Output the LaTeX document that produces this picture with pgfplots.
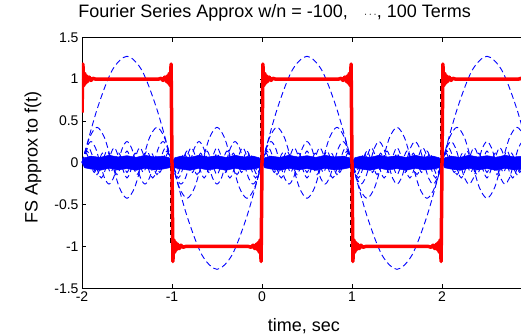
\documentclass[border=0pt]{standalone}
\usepackage{fontspec}
\setmainfont{Liberation Sans}
\usepackage{pgfplots}
\pgfplotsset{compat=1.18}
\begin{document}
\begin{tikzpicture}
\begin{axis}[
  at={(0,0)}, anchor=south west,
  scale only axis, width=450pt, height=251pt,
  xmin=-2, xmax=3, ymin=-1.5, ymax=1.5,
  xtick={-2,-1,0,1,2}, ytick={-1.5,-1,-0.5,0,0.5,1,1.5},
  yticklabels={-1.5,-1,-0.5,0,0.5,1,1.5},
  xticklabels={-2,-1,0,1,2},
  axis line style={line width=0.8pt},
  tick style={black, line width=0.8pt},
  major tick length=4.5pt,
  tick align=inside,
  ytick pos=left,
  xtick pos=both,
  tick label style={font=\fontsize{14}{16}\selectfont},
  /pgf/number format/assume math mode=true,
  title={Fourier Series Approx w/n = -100,\hspace{16pt}{\fontsize{11}{11}\selectfont$\cdots$}, 100 Terms},
  title style={font=\fontsize{18}{20}\selectfont, at={(axis description cs:0.428,1.053)}, anchor=base},
  xlabel={time, sec},
  ylabel={FS Approx to f(t)},
  every axis x label/.style={at={(axis description cs:0.493,-0.172)}, anchor=base, font=\fontsize{18}{20}\selectfont},
  every axis y label/.style={at={(axis description cs:-0.1089,0.523)}, rotate=90, anchor=center, font=\fontsize{18}{20}\selectfont},
]
% dense band of high harmonics
\addplot[fill=blue, draw=blue, line width=0.5pt] coordinates {
(-2,0) (-1.97,.06) (-1.9,.08) (-1.8,.065) (-1.7,.09) (-1.6,.07) (-1.5,.085) (-1.4,.065) (-1.3,.09) (-1.2,.07) (-1.1,.08) (-1.03,.06)
(-1,0) (-.97,.06) (-.9,.08) (-.8,.065) (-.7,.09) (-.6,.07) (-.5,.085) (-.4,.065) (-.3,.09) (-.2,.07) (-.1,.08) (-.03,.06)
(0,0) (.03,.06) (.1,.08) (.2,.065) (.3,.09) (.4,.07) (.5,.085) (.6,.065) (.7,.09) (.8,.07) (.9,.08) (.97,.06)
(1,0) (1.03,.06) (1.1,.08) (1.2,.065) (1.3,.09) (1.4,.07) (1.5,.085) (1.6,.065) (1.7,.09) (1.8,.07) (1.9,.08) (1.97,.06)
(2,0) (2.03,.06) (2.1,.08) (2.2,.065) (2.3,.09) (2.4,.07) (2.5,.085) (2.6,.065) (2.7,.09) (2.8,.07) (2.9,.08) (2.97,.06) (3,0)
(2.97,-.06) (2.9,-.075) (2.8,-.085) (2.7,-.065) (2.6,-.09) (2.5,-.07) (2.4,-.085) (2.3,-.065) (2.2,-.09) (2.1,-.075) (2.03,-.06) (2,0)
(1.97,-.06) (1.9,-.075) (1.8,-.085) (1.7,-.065) (1.6,-.09) (1.5,-.07) (1.4,-.085) (1.3,-.065) (1.2,-.09) (1.1,-.075) (1.03,-.06) (1,0)
(.97,-.06) (.9,-.075) (.8,-.085) (.7,-.065) (.6,-.09) (.5,-.07) (.4,-.085) (.3,-.065) (.2,-.09) (.1,-.075) (.03,-.06) (0,0)
(-.03,-.06) (-.1,-.075) (-.2,-.085) (-.3,-.065) (-.4,-.09) (-.5,-.07) (-.6,-.085) (-.7,-.065) (-.8,-.09) (-.9,-.075) (-.97,-.06) (-1,0)
(-1.03,-.06) (-1.1,-.075) (-1.2,-.085) (-1.3,-.065) (-1.4,-.09) (-1.5,-.07) (-1.6,-.085) (-1.7,-.065) (-1.8,-.09) (-1.9,-.075) (-1.97,-.06) (-2,0)
};
% harmonics (dashed blue)
\pgfplotsset{harm/.style={blue, line width=0.9pt, dash pattern=on 6pt off 3.5pt, smooth}}
% k=1
\addplot[harm] coordinates {
(-2,0) (-1.8333,0.6366) (-1.6667,1.1026) (-1.5,1.2732) (-1.3333,1.1026) (-1.1667,0.6366) (-1,0) (-0.8333,-0.6366) (-0.6667,-1.1026) (-0.5,-1.2732) (-0.3333,-1.1026) (-0.1667,-0.6366) (0,0) (0.1667,0.6366) (0.3333,1.1026) (0.5,1.2732) (0.6667,1.1026) (0.8333,0.6366) (1,0) (1.1667,-0.6366) (1.3333,-1.1026) (1.5,-1.2732) (1.6667,-1.1026) (1.8333,-0.6366) (2,0) (2.1667,0.6366) (2.3333,1.1026) (2.5,1.2732) (2.6667,1.1026) (2.8333,0.6366) (3,0)
};
% k=3
\addplot[harm] coordinates {
(-2,0) (-1.9167,.3001) (-1.8333,.4244) (-1.75,.3001) (-1.6667,0) (-1.5833,-.3001) (-1.5,-.4244) (-1.4167,-.3001) (-1.3333,0) (-1.25,.3001) (-1.1667,.4244) (-1.0833,.3001)
(-1,0) (-.9167,-.3001) (-.8333,-.4244) (-.75,-.3001) (-.6667,0) (-.5833,.3001) (-.5,.4244) (-.4167,.3001) (-.3333,0) (-.25,-.3001) (-.1667,-.4244) (-.0833,-.3001)
(0,0) (.0833,.3001) (.1667,.4244) (.25,.3001) (.3333,0) (.4167,-.3001) (.5,-.4244) (.5833,-.3001) (.6667,0) (.75,.3001) (.8333,.4244) (.9167,.3001)
(1,0) (1.0833,-.3001) (1.1667,-.4244) (1.25,-.3001) (1.3333,0) (1.4167,.3001) (1.5,.4244) (1.5833,.3001) (1.6667,0) (1.75,-.3001) (1.8333,-.4244) (1.9167,-.3001)
(2,0) (2.0833,.3001) (2.1667,.4244) (2.25,.3001) (2.3333,0) (2.4167,-.3001) (2.5,-.4244) (2.5833,-.3001) (2.6667,0) (2.75,.3001) (2.8333,.4244) (2.9167,.3001) (3,0)
};
% k=5
\addplot[harm] coordinates {
(-2,0) (-1.95,.18) (-1.9,.2546) (-1.85,.18) (-1.8,0) (-1.75,-.18) (-1.7,-.2546) (-1.65,-.18) (-1.6,0) (-1.55,.18) (-1.5,.2546) (-1.45,.18) (-1.4,0) (-1.35,-.18) (-1.3,-.2546) (-1.25,-.18) (-1.2,0) (-1.15,.18) (-1.1,.2546) (-1.05,.18)
(-1,0) (-.95,-.18) (-.9,-.2546) (-.85,-.18) (-.8,0) (-.75,.18) (-.7,.2546) (-.65,.18) (-.6,0) (-.55,-.18) (-.5,-.2546) (-.45,-.18) (-.4,0) (-.35,.18) (-.3,.2546) (-.25,.18) (-.2,0) (-.15,-.18) (-.1,-.2546) (-.05,-.18)
(0,0) (.05,.18) (.1,.2546) (.15,.18) (.2,0) (.25,-.18) (.3,-.2546) (.35,-.18) (.4,0) (.45,.18) (.5,.2546) (.55,.18) (.6,0) (.65,-.18) (.7,-.2546) (.75,-.18) (.8,0) (.85,.18) (.9,.2546) (.95,.18)
(1,0) (1.05,-.18) (1.1,-.2546) (1.15,-.18) (1.2,0) (1.25,.18) (1.3,.2546) (1.35,.18) (1.4,0) (1.45,-.18) (1.5,-.2546) (1.55,-.18) (1.6,0) (1.65,.18) (1.7,.2546) (1.75,.18) (1.8,0) (1.85,-.18) (1.9,-.2546) (1.95,-.18)
(2,0) (2.05,.18) (2.1,.2546) (2.15,.18) (2.2,0) (2.25,-.18) (2.3,-.2546) (2.35,-.18) (2.4,0) (2.45,.18) (2.5,.2546) (2.55,.18) (2.6,0) (2.65,-.18) (2.7,-.2546) (2.75,-.18) (2.8,0) (2.85,.18) (2.9,.2546) (2.95,.18) (3,0)
};
% k=7
\addplot[harm] coordinates {
(-2,0) (-1.9286,.1819) (-1.8571,0) (-1.7857,-.1819) (-1.7143,0) (-1.6429,.1819) (-1.5714,0) (-1.5,-.1819) (-1.4286,0) (-1.3571,.1819) (-1.2857,0) (-1.2143,-.1819) (-1.1429,0) (-1.0714,.1819)
(-1,0) (-.9286,-.1819) (-.8571,0) (-.7857,.1819) (-.7143,0) (-.6429,-.1819) (-.5714,0) (-.5,.1819) (-.4286,0) (-.3571,-.1819) (-.2857,0) (-.2143,.1819) (-.1429,0) (-.0714,-.1819)
(0,0) (.0714,.1819) (.1429,0) (.2143,-.1819) (.2857,0) (.3571,.1819) (.4286,0) (.5,-.1819) (.5714,0) (.6429,.1819) (.7143,0) (.7857,-.1819) (.8571,0) (.9286,.1819)
(1,0) (1.0714,-.1819) (1.1429,0) (1.2143,.1819) (1.2857,0) (1.3571,-.1819) (1.4286,0) (1.5,.1819) (1.5714,0) (1.6429,-.1819) (1.7143,0) (1.7857,.1819) (1.8571,0) (1.9286,-.1819)
(2,0) (2.0714,.1819) (2.1429,0) (2.2143,-.1819) (2.2857,0) (2.3571,.1819) (2.4286,0) (2.5,-.1819) (2.5714,0) (2.6429,.1819) (2.7143,0) (2.7857,-.1819) (2.8571,0) (2.9286,.1819) (3,0)
};
% k=9
\addplot[harm] coordinates {
(-2,0) (-1.9444,.1415) (-1.8889,0) (-1.8333,-.1415) (-1.7778,0) (-1.7222,.1415) (-1.6667,0) (-1.6111,-.1415) (-1.5556,0) (-1.5,.1415) (-1.4444,0) (-1.3889,-.1415) (-1.3333,0) (-1.2778,.1415) (-1.2222,0) (-1.1667,-.1415) (-1.1111,0) (-1.0556,.1415)
(-1,0) (-.9444,-.1415) (-.8889,0) (-.8333,.1415) (-.7778,0) (-.7222,-.1415) (-.6667,0) (-.6111,.1415) (-.5556,0) (-.5,-.1415) (-.4444,0) (-.3889,.1415) (-.3333,0) (-.2778,-.1415) (-.2222,0) (-.1667,.1415) (-.1111,0) (-.0556,-.1415)
(0,0) (.0556,.1415) (.1111,0) (.1667,-.1415) (.2222,0) (.2778,.1415) (.3333,0) (.3889,-.1415) (.4444,0) (.5,.1415) (.5556,0) (.6111,-.1415) (.6667,0) (.7222,.1415) (.7778,0) (.8333,-.1415) (.8889,0) (.9444,.1415)
(1,0) (1.0556,-.1415) (1.1111,0) (1.1667,.1415) (1.2222,0) (1.2778,-.1415) (1.3333,0) (1.3889,.1415) (1.4444,0) (1.5,-.1415) (1.5556,0) (1.6111,.1415) (1.6667,0) (1.7222,-.1415) (1.7778,0) (1.8333,.1415) (1.8889,0) (1.9444,-.1415)
(2,0) (2.0556,.1415) (2.1111,0) (2.1667,-.1415) (2.2222,0) (2.2778,.1415) (2.3333,0) (2.3889,-.1415) (2.4444,0) (2.5,.1415) (2.5556,0) (2.6111,-.1415) (2.6667,0) (2.7222,.1415) (2.7778,0) (2.8333,-.1415) (2.8889,0) (2.9444,.1415) (3,0)
};
% k=11
\addplot[harm] coordinates {
(-2,0) (-1.9545,.1157) (-1.9091,0) (-1.8636,-.1157) (-1.8182,0) (-1.7727,.1157) (-1.7273,0) (-1.6818,-.1157) (-1.6364,0) (-1.5909,.1157) (-1.5455,0) (-1.5,-.1157) (-1.4545,0) (-1.4091,.1157) (-1.3636,0) (-1.3182,-.1157) (-1.2727,0) (-1.2273,.1157) (-1.1818,0) (-1.1364,-.1157) (-1.0909,0) (-1.0455,.1157)
(-1,0) (-.9545,-.1157) (-.9091,0) (-.8636,.1157) (-.8182,0) (-.7727,-.1157) (-.7273,0) (-.6818,.1157) (-.6364,0) (-.5909,-.1157) (-.5455,0) (-.5,.1157) (-.4545,0) (-.4091,-.1157) (-.3636,0) (-.3182,.1157) (-.2727,0) (-.2273,-.1157) (-.1818,0) (-.1364,.1157) (-.0909,0) (-.0455,-.1157)
(0,0) (.0455,.1157) (.0909,0) (.1364,-.1157) (.1818,0) (.2273,.1157) (.2727,0) (.3182,-.1157) (.3636,0) (.4091,.1157) (.4545,0) (.5,-.1157) (.5455,0) (.5909,.1157) (.6364,0) (.6818,-.1157) (.7273,0) (.7727,.1157) (.8182,0) (.8636,-.1157) (.9091,0) (.9545,.1157)
(1,0) (1.0455,-.1157) (1.0909,0) (1.1364,.1157) (1.1818,0) (1.2273,-.1157) (1.2727,0) (1.3182,.1157) (1.3636,0) (1.4091,-.1157) (1.4545,0) (1.5,.1157) (1.5455,0) (1.5909,-.1157) (1.6364,0) (1.6818,.1157) (1.7273,0) (1.7727,-.1157) (1.8182,0) (1.8636,.1157) (1.9091,0) (1.9545,-.1157)
(2,0) (2.0455,.1157) (2.0909,0) (2.1364,-.1157) (2.1818,0) (2.2273,.1157) (2.2727,0) (2.3182,-.1157) (2.3636,0) (2.4091,.1157) (2.4545,0) (2.5,-.1157) (2.5455,0) (2.5909,.1157) (2.6364,0) (2.6818,-.1157) (2.7273,0) (2.7727,.1157) (2.8182,0) (2.8636,-.1157) (2.9091,0) (2.9545,.1157) (3,0)
};
% true square wave (black dashed)
\addplot[black, line width=0.8pt, dash pattern=on 5pt off 3pt] coordinates {
(-2,1) (-1.015,1) (-1.015,-1) (-0.015,-1) (-0.015,1) (0.985,1) (0.985,-1) (1.985,-1) (1.985,1) (3,1)
};
% 100-term Fourier series approximation (red)
\addplot[red, line width=3.5pt, line join=round] coordinates {
(-2,.6) (-1.99,1.18) (-1.98,.92) (-1.97,1.07) (-1.96,.95) (-1.95,1.04) (-1.94,.97) (-1.92,1.025) (-1.9,.985) (-1.88,1.01) (-1.85,1) (-1.15,1) (-1.12,1.01) (-1.1,.985) (-1.08,1.025) (-1.06,.97) (-1.05,1.04) (-1.04,.95) (-1.03,1.07) (-1.02,.92) (-1.01,1.18) (-1,0)
(-.99,-1.18) (-.98,-.92) (-.97,-1.07) (-.96,-.95) (-.95,-1.04) (-.94,-.97) (-.92,-1.025) (-.9,-.985) (-.88,-1.01) (-.85,-1) (-.15,-1) (-.12,-1.01) (-.1,-.985) (-.08,-1.025) (-.06,-.97) (-.05,-1.04) (-.04,-.95) (-.03,-1.07) (-.02,-.92) (-.01,-1.18) (0,0)
(.01,1.18) (.02,.92) (.03,1.07) (.04,.95) (.05,1.04) (.06,.97) (.08,1.025) (.1,.985) (.12,1.01) (.15,1) (.85,1) (.88,1.01) (.9,.985) (.92,1.025) (.94,.97) (.95,1.04) (.96,.95) (.97,1.07) (.98,.92) (.99,1.18) (1,0)
(1.01,-1.18) (1.02,-.92) (1.03,-1.07) (1.04,-.95) (1.05,-1.04) (1.06,-.97) (1.08,-1.025) (1.1,-.985) (1.12,-1.01) (1.15,-1) (1.85,-1) (1.88,-1.01) (1.9,-.985) (1.92,-1.025) (1.94,-.97) (1.95,-1.04) (1.96,-.95) (1.97,-1.07) (1.98,-.92) (1.99,-1.18) (2,0)
(2.01,1.18) (2.02,.92) (2.03,1.07) (2.04,.95) (2.05,1.04) (2.06,.97) (2.08,1.025) (2.1,.985) (2.12,1.01) (2.15,1) (2.85,1) (2.88,1.01) (2.9,.985) (2.92,1.025) (2.94,.97) (2.95,1.04) (2.96,.95) (2.97,1.07) (2.98,.92) (2.99,1.18) (3,0)
};
\end{axis}
\pgfresetboundingbox
\path[use as bounding box] (-82pt,-45.7pt) rectangle (439pt,288.3pt);
\end{tikzpicture}
\end{document}
